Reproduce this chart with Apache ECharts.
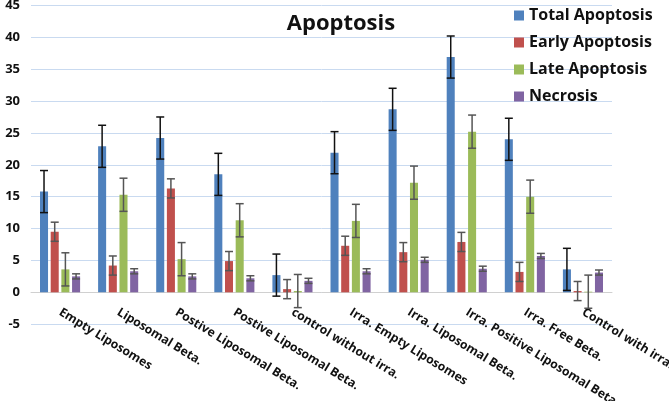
<!DOCTYPE html>
<html>
<head>
<meta charset="utf-8">
<script src="https://cdn.jsdelivr.net/npm/echarts@6/dist/echarts.min.js"></script>
<style>
html,body{margin:0;padding:0;background:#fff;}
#chart{width:669px;height:401px;}
</style>
</head>
<body>
<div id="chart"></div>
<script>
const categories = ['Empty Liposomes','Liposomal Beta.','Postive Liposomal Beta.','Postive Liposomal Beta.','control without irra.','Irra. Empty Liposomes','Irra. Liposomal Beta.','Irra. Positive Liposomal Beta.','Irra. Free Beta.','Control with irra.'];
const seriesNames = ['Total Apoptosis','Early Apoptosis','Late Apoptosis','Necrosis'];
const totalApoptosis = [15.8, 22.9, 24.2, 18.5, 2.7, 21.9, 28.7, 36.9, 24.0, 3.6];
const earlyApoptosis = [9.5, 4.2, 16.3, 4.9, 0.5, 7.3, 6.3, 7.9, 3.2, 0.2];
const lateApoptosis = [3.6, 15.3, 5.2, 11.3, 0.2, 11.2, 17.2, 25.2, 15.0, 0.1];
const necrosis = [2.5, 3.3, 2.5, 2.2, 1.8, 3.3, 5.1, 3.7, 5.7, 3.1];
const totalErr = [3.3, 3.3, 3.3, 3.3, 3.3, 3.3, 3.3, 3.3, 3.3, 3.3];
const earlyErr = [1.5, 1.5, 1.5, 1.5, 1.5, 1.5, 1.5, 1.5, 1.5, 1.5];
const lateErr = [2.6, 2.6, 2.6, 2.6, 2.6, 2.6, 2.6, 2.6, 2.6, 2.6];
const necrosisErr = [0.4, 0.4, 0.4, 0.4, 0.4, 0.4, 0.4, 0.4, 0.4, 0.4];
const yTicks = [-5, 0, 5, 10, 15, 20, 25, 30, 35, 40, 45];

const values = [totalApoptosis, earlyApoptosis, lateApoptosis, necrosis];
const errors = [totalErr, earlyErr, lateErr, necrosisErr];
const colors = ['#4f81bd', '#c0504d', '#9bbb59', '#8064a2'];
const errColors = ['#111111', '#555555', '#555555', '#555555'];
const CAT_GAP = 0.31, BAR_GAP = 0.33, N = 4;

const W = 669, H = 401;
const GRID = {left: 31, right: 57, top: 5.4, bottom: 76.8};
const yMin = yTicks[0], yMax = yTicks[yTicks.length - 1];
// distance from grid bottom up to the zero line, in pixels
const zeroOffset = (H - GRID.top - GRID.bottom) * (0 - yMin) / (yMax - yMin);

const chart = echarts.init(document.getElementById('chart'));
const barSeries = values.map((v, i) => ({
  name: seriesNames[i], type: 'bar', data: v,
  itemStyle: {color: colors[i]},
  barGap: (BAR_GAP * 100) + '%', barCategoryGap: (CAT_GAP * 100) + '%'
}));
const errSeries = values.map((v, i) => ({
  type: 'custom', name: seriesNames[i] + ' err', z: 5,
  data: v.map((val, k) => [k, val - errors[i][k], val + errors[i][k]]),
  renderItem: function (params, api) {
    const k = api.value(0);
    const lo = api.coord([k, api.value(1)]);
    const hi = api.coord([k, api.value(2)]);
    const band = api.size([1, 0])[0];
    const w = band * (1 - CAT_GAP) / (N + (N - 1) * BAR_GAP);
    const total = N * w + (N - 1) * BAR_GAP * w;
    const x = lo[0] - total / 2 + i * w * (1 + BAR_GAP) + w / 2;
    const cap = 4;
    const st = {stroke: errColors[i], lineWidth: 1.5};
    return {type: 'group', children: [
      {type: 'line', shape: {x1: x, y1: lo[1], x2: x, y2: hi[1]}, style: st},
      {type: 'line', shape: {x1: x - cap, y1: lo[1], x2: x + cap, y2: lo[1]}, style: st},
      {type: 'line', shape: {x1: x - cap, y1: hi[1], x2: x + cap, y2: hi[1]}, style: st}
    ]};
  }
}));

chart.setOption({
  animation: false,
  title: {text: 'Apoptosis', left: 336, top: 8, textAlign: 'center',
    textStyle: {fontFamily: 'Open Sans', fontWeight: 'bold', fontSize: 22, color: '#111'}},
  legend: {
    data: seriesNames, orient: 'vertical', left: 509, top: 2,
    itemWidth: 10, itemHeight: 10, itemGap: 10, icon: 'rect',
    textStyle: {fontFamily: 'Open Sans', fontWeight: 'bold', fontSize: 16, color: '#111', lineHeight: 17}
  },
  grid: {left: GRID.left, right: GRID.right, top: GRID.top, bottom: GRID.bottom, containLabel: false, outerBoundsMode: 'none'},
  xAxis: {
    type: 'category', data: categories,
    offset: -zeroOffset,
    axisLine: {show: true, onZero: false, lineStyle: {color: '#d0d0d0', width: 1}},
    axisTick: {show: false},
    axisLabel: {rotate: -31.5, interval: 0, fontFamily: 'Open Sans', fontWeight: 'bold', fontSize: 12.2, color: '#111', margin: 19}
  },
  yAxis: {
    type: 'value', min: yMin, max: yMax, interval: 5,
    axisLine: {show: false}, axisTick: {show: false},
    splitLine: {lineStyle: {color: '#c9daf0', width: 1}},
    axisLabel: {fontFamily: 'Open Sans', fontWeight: 'bold', fontSize: 13, color: '#111', margin: 11}
  },
  series: barSeries.concat(errSeries)
});
</script>
</body>
</html>
